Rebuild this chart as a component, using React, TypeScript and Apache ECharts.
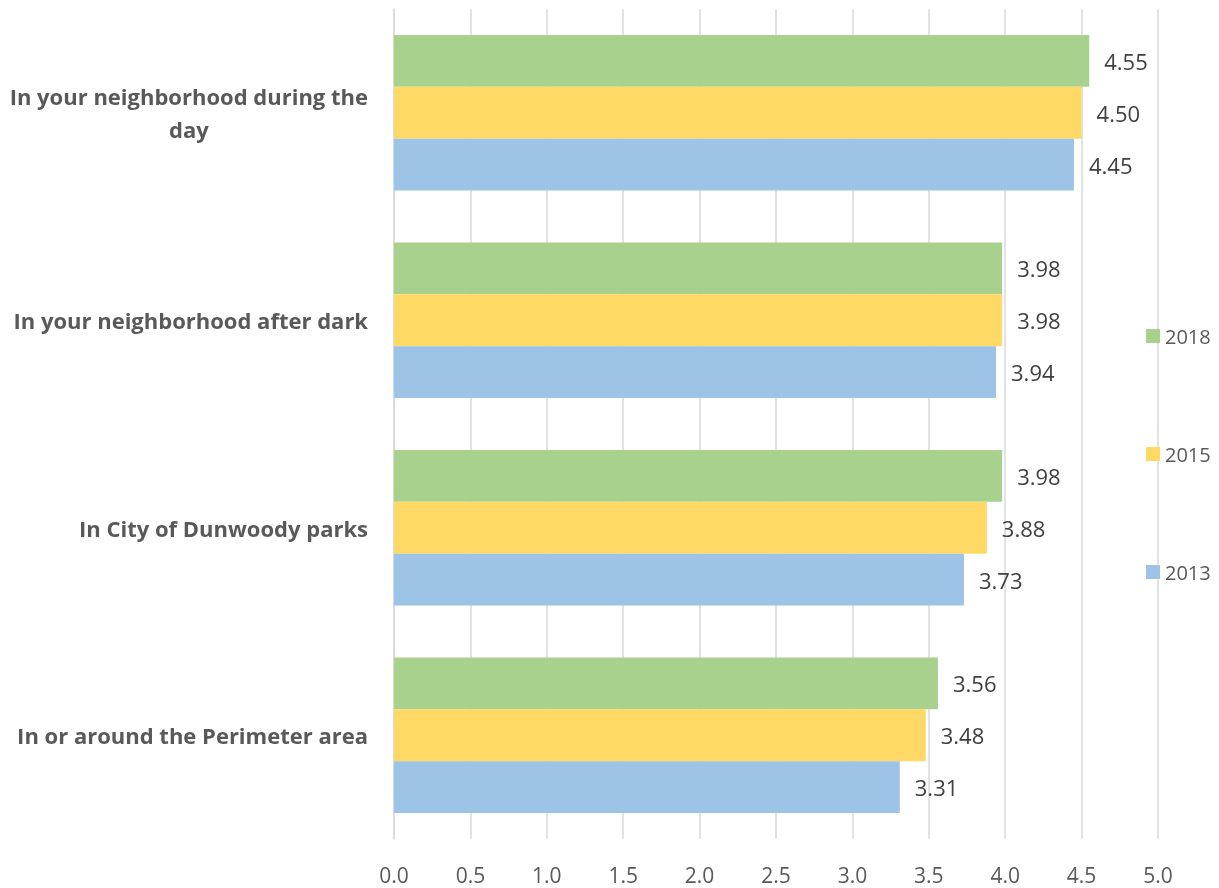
import React, { useEffect, useRef } from "react";
import * as echarts from "echarts";

const categories = [
  "In your neighborhood during the day",
  "In your neighborhood after dark",
  "In City of Dunwoody parks",
  "In or around the Perimeter area",
];
const seriesNames = ["2018", "2015", "2013"];
const values2018 = [4.55, 3.98, 3.98, 3.56];
const values2015 = [4.5, 3.98, 3.88, 3.48];
const values2013 = [4.45, 3.94, 3.73, 3.31];
const colors = ["#A9D18E", "#FFD966", "#9DC3E6"];
const xTicks = { min: 0, max: 5, interval: 0.5 };

function wrap(s: string, max: number): string {
  const words = s.split(" ");
  const lines: string[] = [];
  let cur = "";
  for (const w of words) {
    const t = cur ? cur + " " + w : w;
    if (t.length > max && cur) {
      lines.push(cur);
      cur = w;
    } else cur = t;
  }
  if (cur) lines.push(cur);
  return lines.map((l) => "{a|" + l + "}").join("\n");
}

export default function App() {
  const ref = useRef<HTMLDivElement>(null);
  useEffect(() => {
    if (!ref.current) return;
    const chart = echarts.init(ref.current, undefined, { renderer: "svg" });
    const allValues = [values2018, values2015, values2013];
    chart.setOption({
      animation: false,
      textStyle: { fontFamily: "Open Sans" },
      grid: { left: 394, right: 61, top: 9, bottom: 49, containLabel: false },
      legend: {
        orient: "vertical",
        left: 1141,
        top: 317,
        itemWidth: 14,
        itemHeight: 14,
        itemGap: 90,
        icon: "rect",
        textStyle: { fontSize: 20, color: "#595959", fontFamily: "Open Sans", lineHeight: 28 },
        data: seriesNames,
      },
      xAxis: {
        type: "value",
        min: xTicks.min,
        max: xTicks.max,
        interval: xTicks.interval,
        axisLine: { show: false },
        axisTick: { show: false },
        splitLine: { lineStyle: { color: "#D9D9D9", width: 1.5 } },
        axisLabel: {
          formatter: (v: number) => v.toFixed(1),
          fontSize: 21,
          color: "#595959",
          margin: 25,
          fontFamily: "Open Sans",
        },
      },
      yAxis: {
        type: "category",
        inverse: true,
        data: categories,
        axisLine: { lineStyle: { color: "#D9D9D9", width: 1.5 } },
        axisTick: { show: false },
        axisLabel: {
          margin: 26,
          formatter: (v: string) => wrap(v, 31),
          rich: {
            a: {
              align: "center",
              fontSize: 22,
              fontWeight: "bold",
              color: "#595959",
              lineHeight: 33,
              fontFamily: "Open Sans",
            },
          },
        },
      },
      series: seriesNames.map((name, i) => ({
        name,
        type: "bar",
        data: allValues[i],
        barGap: "0%",
        barCategoryGap: "25%",
        itemStyle: { color: colors[i] },
        label: {
          show: true,
          position: "right",
          distance: 15,
          fontSize: 22,
          color: "#404040",
          fontFamily: "Open Sans",
          formatter: (p: any) => Number(p.value).toFixed(2),
        },
      })),
    });
    return () => chart.dispose();
  }, []);
  return (
    <div
      ref={ref}
      style={{ position: "fixed", left: 0, top: 0, width: 1219, height: 888 }}
    />
  );
}
